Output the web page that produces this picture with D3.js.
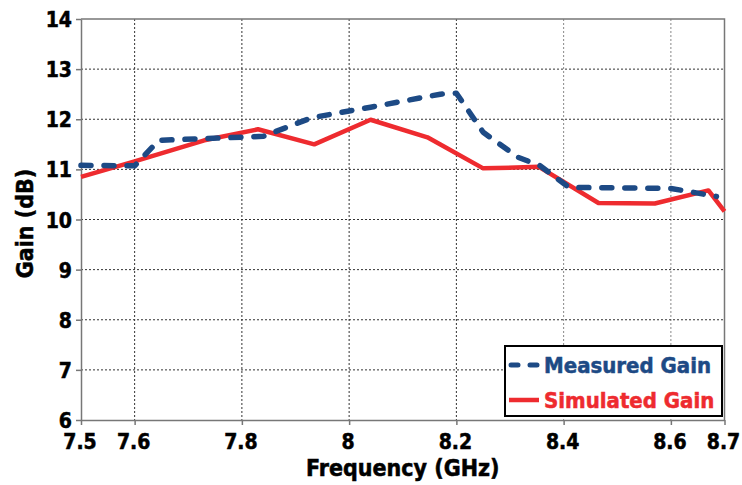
<!DOCTYPE html>
<html lang="en">
<head>
  <meta charset="UTF-8">
  <title>Gain vs Frequency</title>
  <script src="https://cdn.jsdelivr.net/npm/d3@7"></script>
  <style>
    body {
      margin: 0;
      background: #fff;
    }

    text {
      font-family: "DejaVu Sans Condensed", "DejaVu Sans", sans-serif;
      font-weight: bold;
      stroke-width: 0.5px;
    }
  </style>
</head>
<body>
<svg id="chart"></svg>
<script>
  // measured gain (blue dashed)
  let measuredFreq = [7.5, 7.6, 7.645, 7.84, 7.93, 8.04, 8.17, 8.2, 8.25, 8.315, 8.355, 8.41, 8.6, 8.685];
  let measuredGain = [11.08, 11.07, 11.58, 11.66, 12.03, 12.24, 12.5, 12.52, 11.74, 11.24, 11.08, 10.64, 10.62, 10.46];

  // simulated gain (red solid)
  let simulatedFreq = [7.5, 7.6, 7.73, 7.83, 7.935, 8.04, 8.146, 8.25, 8.354, 8.465, 8.57, 8.67, 8.7];
  let simulatedGain = [10.85, 11.16, 11.58, 11.8, 11.5, 11.99, 11.64, 11.02, 11.05, 10.33, 10.32, 10.58, 10.16];

  let xTicks = [7.5, 7.6, 7.8, 8, 8.2, 8.4, 8.6, 8.7];
  let yTicks = [6, 7, 8, 9, 10, 11, 12, 13, 14];

  let width = 742, height = 485;
  let margin = {top: 19, right: 17.5, bottom: 65, left: 81};

  let svg = d3.select("#chart")
      .attr("width", width)
      .attr("height", height);

  let x = d3.scaleLinear().domain([7.5, 8.7]).range([margin.left, width - margin.right]);
  let y = d3.scaleLinear().domain([6, 14]).range([height - margin.bottom, margin.top]);

  // grid
  svg.append("g")
      .selectAll("line")
      .data(xTicks.filter(d => d > 7.5 && d < 8.7))
      .join("line")
      .attr("x1", d => x(d)).attr("x2", d => x(d))
      .attr("y1", y(14)).attr("y2", y(6))
      .attr("stroke", d => d > 8.3 ? "#888" : "#333")
      .attr("stroke-width", 1)
      .attr("stroke-dasharray", "2,2");

  svg.append("g")
      .selectAll("line")
      .data(yTicks.filter(d => d > 6 && d < 14))
      .join("line")
      .attr("x1", x(7.5)).attr("x2", x(8.7))
      .attr("y1", d => y(d)).attr("y2", d => y(d))
      .attr("stroke", "#333")
      .attr("stroke-width", 1)
      .attr("stroke-dasharray", "2,2");

  // frame top / right
  svg.append("path")
      .attr("d", `M${x(7.5)},${y(14)}H${x(8.7)}V${y(6)}`)
      .attr("fill", "none")
      .attr("stroke", "#777")
      .attr("stroke-width", 1.5);

  // axes
  let xAxis = svg.append("g")
      .attr("transform", `translate(0,${y(6)})`)
      .call(d3.axisBottom(x).tickValues(xTicks).tickSize(5).tickSizeOuter(0).tickFormat(d3.format("")));

  let yAxis = svg.append("g")
      .attr("transform", `translate(${x(7.5)},0)`)
      .call(d3.axisLeft(y).tickValues(yTicks).tickSize(5).tickSizeOuter(0));

  [xAxis, yAxis].forEach(g => {
    g.select(".domain").attr("stroke", "#777").attr("stroke-width", 1.5);
    g.selectAll(".tick line").attr("stroke", "#777").attr("stroke-width", 1.5);
    g.selectAll("text")
        .attr("fill", "#000")
        .attr("stroke", "#000")
        .style("font-size", "21px")
        .style("font-family", "\"DejaVu Sans Condensed\", \"DejaVu Sans\", sans-serif")
        .style("font-weight", "bold");
  });
  xAxis.selectAll("text").attr("y", 29).attr("dy", null).attr("x", -1.5);
  yAxis.selectAll("text").attr("x", -9).attr("dy", "0.36em");

  // axis titles
  svg.append("text")
      .attr("x", (x(7.5) + x(8.7)) / 2)
      .attr("y", 476)
      .attr("text-anchor", "middle")
      .attr("stroke", "#000")
      .style("font-size", "23px")
      .text("Frequency (GHz)");

  svg.append("text")
      .attr("transform", `translate(33,223.5) rotate(-90)`)
      .attr("text-anchor", "middle")
      .attr("stroke", "#000")
      .style("font-size", "23px")
      .text("Gain (dB)");

  // lines
  let line = d3.line().x(d => x(d[0])).y(d => y(d[1]));

  svg.append("path")
      .datum(simulatedFreq.map((f, i) => [f, simulatedGain[i]]))
      .attr("d", line)
      .attr("fill", "none")
      .attr("stroke", "#ee2b2f")
      .attr("stroke-width", 4.5)
      .attr("stroke-linejoin", "round");

  svg.append("path")
      .datum(measuredFreq.map((f, i) => [f, measuredGain[i]]))
      .attr("d", line)
      .attr("fill", "none")
      .attr("stroke", "#1d4a85")
      .attr("stroke-width", 5.5)
      .attr("stroke-dasharray", "10,13")
      .attr("stroke-linecap", "round")
      .attr("stroke-linejoin", "round");

  // legend
  let legend = svg.append("g");
  legend.append("rect")
      .attr("x", 505).attr("y", 346)
      .attr("width", 217).attr("height", 70)
      .attr("fill", "#fff")
      .attr("stroke", "#000")
      .attr("stroke-width", 2);

  let items = [
    {name: "Measured Gain", color: "#1d4a85", dash: "7,12", yy: 365},
    {name: "Simulated Gain", color: "#ee2b2f", dash: null, yy: 400}
  ];

  items.forEach(it => {
    legend.append("line")
        .attr("x1", it.dash ? 511 : 509).attr("x2", 539)
        .attr("y1", it.yy).attr("y2", it.yy)
        .attr("stroke", it.color)
        .attr("stroke-width", it.dash ? 5 : 4.5)
        .attr("stroke-linecap", it.dash ? "round" : "butt")
        .attr("stroke-dasharray", it.dash);
    legend.append("text")
        .attr("x", 544).attr("y", it.yy)
        .attr("dy", "0.36em")
        .attr("fill", it.color)
        .attr("stroke", it.color)
        .style("font-size", "22px")
        .text(it.name);
  });
</script>
</body>
</html>
